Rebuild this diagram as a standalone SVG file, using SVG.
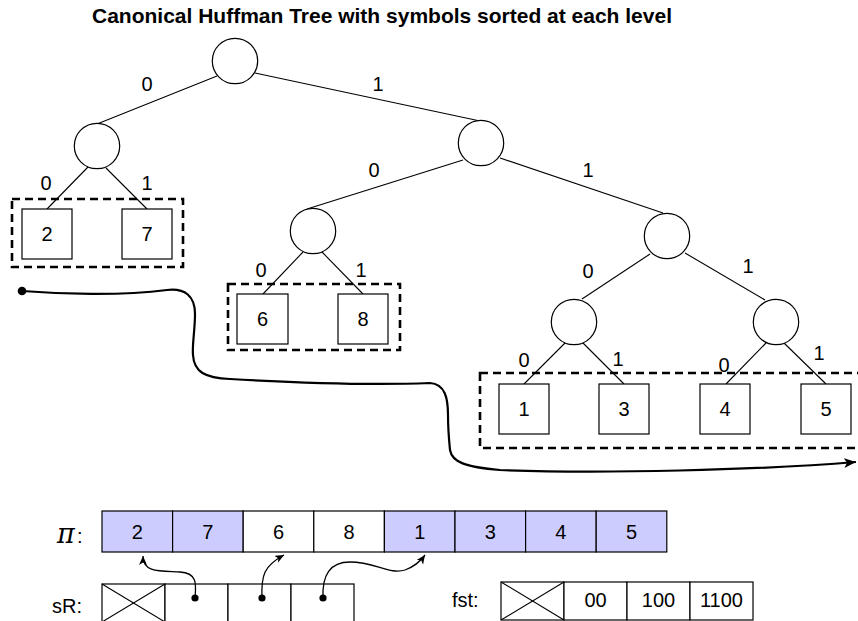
<svg xmlns="http://www.w3.org/2000/svg" width="858" height="621" viewBox="0 0 858 621">
  <style>
    .node { fill: #ffffff; stroke: #000000; stroke-width: 1.2; }
    .edge { fill: none; stroke: #000000; stroke-width: 1.1; }
    .group { fill: none; stroke: #000000; stroke-width: 2.6; stroke-dasharray: 8 5; }
    .cell { fill: #ffffff; stroke: #000000; stroke-width: 1.2; }
    .hl { fill: #ccccff; }
    .t { font-family: "Liberation Sans", Arial, sans-serif; font-size: 20px; fill: #000000; text-anchor: middle; }
    .lbl { font-family: "Liberation Sans", Arial, sans-serif; font-size: 20px; fill: #000000; }
    .title { font-family: "Liberation Sans", Arial, sans-serif; font-size: 21px; font-weight: bold; fill: #000000; text-anchor: middle; }
    .scan { fill: none; stroke: #000000; stroke-width: 2.2; }
    .ptr { fill: none; stroke: #000000; stroke-width: 1.3; }
  </style>
  <defs>
    <marker id="bigArrow" markerUnits="userSpaceOnUse" markerWidth="14" markerHeight="12" refX="12" refY="5" orient="auto">
      <path d="M0,0 L12,5 L0,10 L3,5 Z" fill="#000000"/>
    </marker>
    <marker id="smallArrow" markerUnits="userSpaceOnUse" markerWidth="12" markerHeight="10" refX="9" refY="4" orient="auto">
      <path d="M0,0 L9,4 L0,8 L2.5,4 Z" fill="#000000"/>
    </marker>
  </defs>

  <text class="title" x="382" y="23">Canonical Huffman Tree with symbols sorted at each level</text>

  <!-- tree edges -->
  <g id="edges">
    <line class="edge" x1="217" y1="76" x2="97" y2="124"/>
    <line class="edge" x1="255" y1="73" x2="480" y2="121"/>
    <line class="edge" x1="88" y1="167" x2="47" y2="209"/>
    <line class="edge" x1="106" y1="168" x2="147" y2="209"/>
    <line class="edge" x1="463" y1="160" x2="307" y2="209"/>
    <line class="edge" x1="500" y1="158" x2="663" y2="213"/>
    <line class="edge" x1="303" y1="252" x2="263" y2="294"/>
    <line class="edge" x1="322" y1="252" x2="363" y2="294"/>
    <line class="edge" x1="650" y1="254" x2="582" y2="299"/>
    <line class="edge" x1="685" y1="253" x2="765" y2="300"/>
    <line class="edge" x1="565" y1="343" x2="524" y2="384"/>
    <line class="edge" x1="583" y1="343" x2="624" y2="384"/>
    <line class="edge" x1="766" y1="343" x2="726" y2="384"/>
    <line class="edge" x1="784" y1="343" x2="826" y2="384"/>
  </g>

  <!-- edge bit labels -->
  <g id="bits">
    <text class="t" x="147" y="91">0</text>
    <text class="t" x="378" y="91">1</text>
    <text class="t" x="46" y="190">0</text>
    <text class="t" x="147" y="190">1</text>
    <text class="t" x="374" y="177">0</text>
    <text class="t" x="588" y="177">1</text>
    <text class="t" x="261" y="277">0</text>
    <text class="t" x="361" y="277">1</text>
    <text class="t" x="588" y="278">0</text>
    <text class="t" x="748" y="273">1</text>
    <text class="t" x="524" y="367">0</text>
    <text class="t" x="618" y="366">1</text>
    <text class="t" x="724" y="372">0</text>
    <text class="t" x="819" y="360">1</text>
  </g>

  <!-- internal nodes -->
  <g id="root"><circle class="node" cx="235" cy="61" r="22.7"/></g>
  <g id="n0"><circle class="node" cx="97" cy="146" r="22.7"/></g>
  <g id="n1"><circle class="node" cx="481" cy="143" r="22.7"/></g>
  <g id="n10"><circle class="node" cx="313" cy="231" r="22.7"/></g>
  <g id="n11"><circle class="node" cx="667" cy="236" r="22.7"/></g>
  <g id="n110"><circle class="node" cx="574" cy="322" r="22.7"/></g>
  <g id="n111"><circle class="node" cx="776" cy="322" r="22.7"/></g>

  <!-- level groups -->
  <g id="level2"><rect class="group" x="12" y="199" width="171" height="68"/></g>
  <g id="level3"><rect class="group" x="228" y="284" width="172" height="66"/></g>
  <g id="level4"><rect class="group" x="480" y="373" width="384" height="75"/></g>

  <!-- leaves -->
  <g id="leaf2"><rect class="node" x="22" y="209" width="50" height="50"/><text class="t" x="47" y="241">2</text></g>
  <g id="leaf7"><rect class="node" x="122" y="209" width="50" height="50"/><text class="t" x="147" y="241">7</text></g>
  <g id="leaf6"><rect class="node" x="237" y="294" width="51" height="50"/><text class="t" x="262.5" y="326">6</text></g>
  <g id="leaf8"><rect class="node" x="338" y="294" width="50" height="50"/><text class="t" x="363" y="326">8</text></g>
  <g id="leaf1"><rect class="node" x="499" y="384" width="50" height="50"/><text class="t" x="524" y="416">1</text></g>
  <g id="leaf3"><rect class="node" x="599" y="384" width="50" height="50"/><text class="t" x="624" y="416">3</text></g>
  <g id="leaf4"><rect class="node" x="700" y="384" width="50" height="50"/><text class="t" x="725" y="416">4</text></g>
  <g id="leaf5"><rect class="node" x="801" y="384" width="50" height="50"/><text class="t" x="826" y="416">5</text></g>

  <!-- level-order scan -->
  <g id="scan">
    <path class="scan" marker-end="url(#bigArrow)" d="M22,291 C60,294 120,296 167,290 C185,288 195,296 195,314 C195,330 192,345 193,355 C194,372 205,378 230,379 C300,383 380,385 430,383 C445,384 448,398 448,415 C448,430 449,440 450,450 C452,462 465,467 500,470 C600,474 760,470 856,462"/>
    <circle cx="22" cy="291" r="4.3" fill="#000000"/>
  </g>

  <!-- permutation array -->
  <g id="pi">
    <text x="57" y="543" font-family="'DejaVu Serif', 'Liberation Serif', serif" font-style="italic" font-size="27">π</text>
    <text class="lbl" x="77" y="543">:</text>
    <rect class="cell hl" x="102" y="511" width="70.6" height="41"/>
    <rect class="cell hl" x="172.6" y="511" width="70.6" height="41"/>
    <rect class="cell" x="243.2" y="511" width="70.6" height="41"/>
    <rect class="cell" x="313.8" y="511" width="70.6" height="41"/>
    <rect class="cell hl" x="384.4" y="511" width="70.6" height="41"/>
    <rect class="cell hl" x="455" y="511" width="70.6" height="41"/>
    <rect class="cell hl" x="525.6" y="511" width="70.6" height="41"/>
    <rect class="cell hl" x="596.2" y="511" width="70.6" height="41"/>
    <text class="t" x="137.3" y="538.5">2</text>
    <text class="t" x="207.9" y="538.5">7</text>
    <text class="t" x="278.5" y="538.5">6</text>
    <text class="t" x="349.1" y="538.5">8</text>
    <text class="t" x="419.7" y="538.5">1</text>
    <text class="t" x="490.3" y="538.5">3</text>
    <text class="t" x="560.9" y="538.5">4</text>
    <text class="t" x="631.5" y="538.5">5</text>
  </g>

  <!-- start-of-rank array -->
  <g id="sR">
    <text class="lbl" x="52" y="613">sR:</text>
    <rect class="cell" x="102" y="584" width="63" height="38"/>
    <line class="edge" x1="102" y1="584" x2="165" y2="622"/>
    <line class="edge" x1="165" y1="584" x2="102" y2="622"/>
    <rect class="cell" x="165" y="584" width="63" height="38"/>
    <rect class="cell" x="228" y="584" width="63" height="38"/>
    <rect class="cell" x="291" y="584" width="63" height="38"/>
  </g>

  <!-- first-code array -->
  <g id="fst">
    <text class="lbl" x="452" y="607">fst:</text>
    <rect class="cell" x="501" y="582" width="63" height="38"/>
    <line class="edge" x1="501" y1="582" x2="564" y2="620"/>
    <line class="edge" x1="564" y1="582" x2="501" y2="620"/>
    <rect class="cell" x="564" y="582" width="63" height="38"/>
    <rect class="cell" x="627" y="582" width="63" height="38"/>
    <rect class="cell" x="690" y="582" width="63" height="38"/>
    <text class="t" x="595.5" y="607">00</text>
    <text class="t" x="658.5" y="607">100</text>
    <text class="t" x="721.5" y="607">1100</text>
  </g>

  <!-- sR pointers into π -->
  <g id="pointers">
    <path class="ptr" marker-end="url(#smallArrow)" d="M195,598 C196,585 198,573 180,572 C160,571 143,573 143,556"/>
    <path class="ptr" marker-end="url(#smallArrow)" d="M262,598 C261,575 264,566 284,555"/>
    <path class="ptr" marker-end="url(#smallArrow)" d="M323,598 C322,575 330,562 350,562 C375,562 390,575 405,570 C413,567 420,562 425,555"/>
    <circle cx="195" cy="598" r="3.6" fill="#000000"/>
    <circle cx="262" cy="598" r="3.6" fill="#000000"/>
    <circle cx="323" cy="598" r="3.6" fill="#000000"/>
  </g>
</svg>
